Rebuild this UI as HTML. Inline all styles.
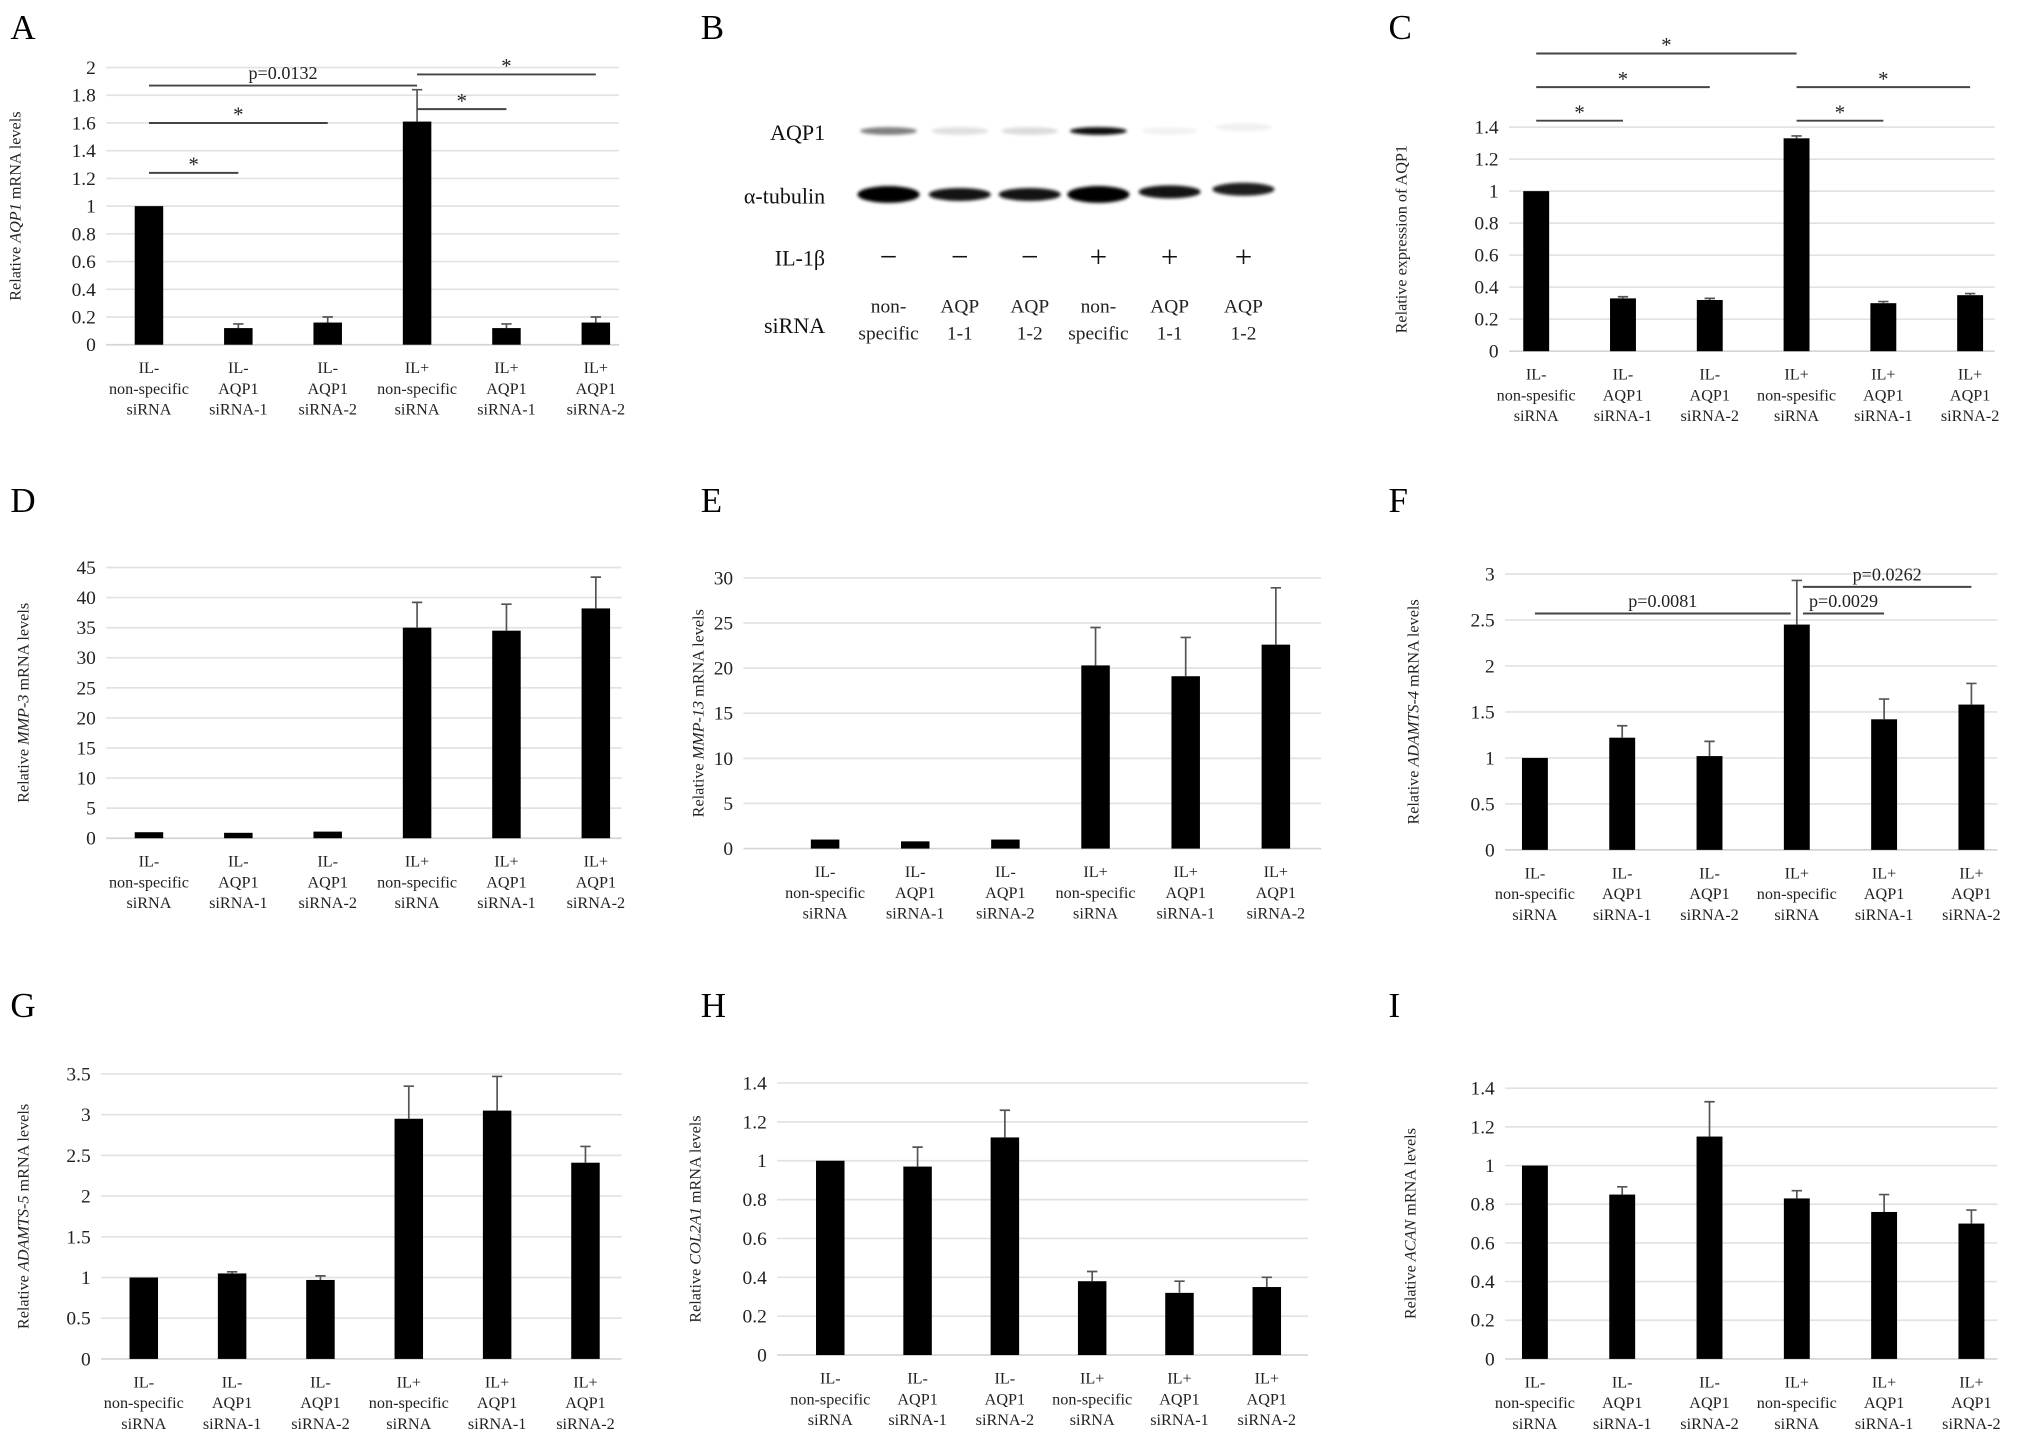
<!DOCTYPE html>
<html><head><meta charset="utf-8"><style>
html,body{margin:0;padding:0;background:#fff}
svg{display:block;font-family:"Liberation Serif",serif}
</style></head><body>
<svg id="fig" width="2031" height="1442" viewBox="0 0 1568 1113" xmlns="http://www.w3.org/2000/svg">
<defs><filter id="blur" x="-20%" y="-100%" width="140%" height="300%"><feGaussianBlur stdDeviation="1.2"/></filter></defs>
<rect width="1568" height="1113" fill="#fff"/>
<g id="charts"></g>
<g id="blot"></g>
</svg>
<script>
const categories=[["IL-","non-specific","siRNA"],["IL-","AQP1","siRNA-1"],["IL-","AQP1","siRNA-2"],["IL+","non-specific","siRNA"],["IL+","AQP1","siRNA-1"],["IL+","AQP1","siRNA-2"]];
const categoriesC=[["IL-","non-spesific","siRNA"],["IL-","AQP1","siRNA-1"],["IL-","AQP1","siRNA-2"],["IL+","non-spesific","siRNA"],["IL+","AQP1","siRNA-1"],["IL+","AQP1","siRNA-2"]];
const valuesA=[1,0.12,0.16,1.61,0.12,0.16];
const errorsA=[0,0.03,0.04,0.23,0.03,0.04];
const valuesC=[1,0.33,0.32,1.33,0.30,0.35];
const errorsC=[0,0.01,0.01,0.015,0.01,0.01];
const valuesD=[1,0.9,1.1,35,34.5,38.2];
const errorsD=[0,0,0,4.2,4.4,5.2];
const valuesE=[1,0.8,1.0,20.3,19.1,22.6];
const errorsE=[0,0,0,4.2,4.3,6.3];
const valuesF=[1,1.22,1.02,2.45,1.42,1.58];
const errorsF=[0,0.13,0.16,0.48,0.22,0.23];
const valuesG=[1,1.05,0.97,2.95,3.05,2.41];
const errorsG=[0,0.02,0.05,0.4,0.42,0.2];
const valuesH=[1,0.97,1.12,0.38,0.32,0.35];
const errorsH=[0,0.1,0.14,0.05,0.06,0.05];
const valuesI=[1,0.85,1.15,0.83,0.76,0.70];
const errorsI=[0,0.04,0.18,0.04,0.09,0.07];
const ticksA=["0","0.2","0.4","0.6","0.8","1","1.2","1.4","1.6","1.8","2"];
const ticksC=["0","0.2","0.4","0.6","0.8","1","1.2","1.4"];
const ticksD=["0","5","10","15","20","25","30","35","40","45"];
const ticksE=["0","5","10","15","20","25","30"];
const ticksF=["0","0.5","1","1.5","2","2.5","3"];
const ticksG=["0","0.5","1","1.5","2","2.5","3","3.5"];
const ticksH=["0","0.2","0.4","0.6","0.8","1","1.2","1.4"];
const ticksI=["0","0.2","0.4","0.6","0.8","1","1.2","1.4"];
// significance brackets: [fromIndex, toIndex, yValue, label]
const sigA=[[0,3,1.87,"p=0.0132"],[0,2,1.6,"*"],[0,1,1.24,"*"],[3,5,1.95,"*"],[3,4,1.7,"*"]];
const sigC=[[0,3,1.86,"*"],[0,2,1.65,"*"],[0,1,1.44,"*"],[3,5,1.65,"*"],[3,4,1.44,"*"]];
const sigF=[[0,2.93,2.57,"p=0.0081"],[3.07,5,2.86,"p=0.0262"],[3.07,4,2.57,"p=0.0029"]];

const NS="http://www.w3.org/2000/svg";
function mk(parent,tag,attrs,text){const e=document.createElementNS(NS,tag);for(const k in attrs)e.setAttribute(k,attrs[k]);if(text!==undefined)e.textContent=text;parent.appendChild(e);return e;}

function chart(cfg){
  const root=document.getElementById('charts');
  const g=mk(root,'g',{});
  
  
  const ticks=cfg.ticks, vals=cfg.values, errs=cfg.errors;
  const maxT=parseFloat(ticks[ticks.length-1]);
  const y=v=>cfg.y0-(v/maxT)*(cfg.y0-cfg.yTop);
  const x=i=>cfg.c0+i*cfg.sp;
  const L=mk(g,'text',{x:cfg.lx,y:cfg.ly,'font-size':27});L.textContent=cfg.id;
  
  
  ticks.forEach(t=>{
    const v=parseFloat(t);
    const gl=mk(g,'line',{x1:cfg.gx0,x2:cfg.gx1,y1:y(v),y2:y(v),stroke:v===0?'#d4d4d4':'#e2e2e2','stroke-width':1.3});
    
    
    const tl=mk(g,'text',{x:cfg.gx0-8,y:y(v)+5,'font-size':15,'text-anchor':'end',fill:'#222'},t);
    
    
  });
  const midY=(cfg.y0+cfg.yTop)/2;
  const tt=mk(g,'text',{x:cfg.tx,y:midY,'font-size':12.5,'text-anchor':'middle',fill:'#222',transform:`rotate(-90 ${cfg.tx} ${midY})`});
  
  
  mk(tt,'tspan',{},'Relative ');
  if(cfg.gene)mk(tt,'tspan',{'font-style':'italic'},cfg.gene+' ');
  mk(tt,'tspan',{},cfg.titleRest);
  vals.forEach((v,i)=>{
    const b=mk(g,'rect',{x:x(i)-cfg.bw/2,y:y(v),width:cfg.bw,height:cfg.y0-y(v),fill:'#000'});
    
    
    if(errs[i]>0){
      const e=mk(g,'path',{d:`M${x(i)} ${y(v)}V${y(v+errs[i])}M${x(i)-4} ${y(v+errs[i])}H${x(i)+4}`,stroke:'#555','stroke-width':1.3,fill:'none'});
      
      
    }
  });
  cfg.cats.forEach((c,i)=>{
    const t=mk(g,'text',{x:x(i),y:cfg.y0+22,'font-size':12.5,'text-anchor':'middle',fill:'#222'});
    
    
    c.forEach((ln,k)=>mk(t,'tspan',{x:x(i),dy:k?16:0},ln));
  });
  (cfg.sig||[]).forEach(s=>{
    const a=x(s[0]),b=x(s[1]),yy=y(s[2]);
    const l=mk(g,'line',{x1:a,x2:b,y1:yy,y2:yy,stroke:'#444','stroke-width':1.5});
    
    
    const isStar=s[3]==='*';
    const t=mk(g,'text',{x:(a+b)/2,y:isStar?yy-1:yy-5,'font-size':isStar?16:14,'text-anchor':'middle',fill:'#222'},s[3]);
    
    
  });
}
chart({id:'A',lx:8,ly:30,values:valuesA,errors:errorsA,ticks:ticksA,cats:categories,gx0:82,gx1:478,y0:266,yTop:52,c0:115,sp:69,bw:22,tx:16,gene:'AQP1',titleRest:'mRNA levels',sig:sigA});
chart({id:'C',lx:1072,ly:30,values:valuesC,errors:errorsC,ticks:ticksC,cats:categoriesC,gx0:1165,gx1:1540,y0:271,yTop:98,c0:1186,sp:67,bw:20,tx:1086,gene:'',titleRest:'expression of AQP1',sig:sigC});
chart({id:'D',lx:8,ly:395,values:valuesD,errors:errorsD,ticks:ticksD,cats:categories,gx0:82,gx1:480,y0:647,yTop:438,c0:115,sp:69,bw:22,tx:22,gene:'MMP-3',titleRest:'mRNA levels'});
chart({id:'E',lx:541,ly:395,values:valuesE,errors:errorsE,ticks:ticksE,cats:categories,gx0:574,gx1:1020,y0:655,yTop:446,c0:637,sp:69.6,bw:22,tx:543,gene:'MMP-13',titleRest:'mRNA levels'});
chart({id:'F',lx:1072,ly:395,values:valuesF,errors:errorsF,ticks:ticksF,cats:categories,gx0:1162,gx1:1542,y0:656,yTop:443,c0:1185,sp:67.4,bw:20,tx:1095,gene:'ADAMTS-4',titleRest:'mRNA levels',sig:sigF});
chart({id:'G',lx:8,ly:785,values:valuesG,errors:errorsG,ticks:ticksG,cats:categories,gx0:78,gx1:480,y0:1049,yTop:829,c0:111,sp:68.2,bw:22,tx:22,gene:'ADAMTS-5',titleRest:'mRNA levels'});
chart({id:'H',lx:541,ly:785,values:valuesH,errors:errorsH,ticks:ticksH,cats:categories,gx0:600,gx1:1010,y0:1046,yTop:836,c0:641,sp:67.4,bw:22,tx:541,gene:'COL2A1',titleRest:'mRNA levels'});
chart({id:'I',lx:1072,ly:785,values:valuesI,errors:errorsI,ticks:ticksI,cats:categories,gx0:1162,gx1:1542,y0:1049,yTop:840,c0:1185,sp:67.4,bw:20,tx:1093,gene:'ACAN',titleRest:'mRNA levels'});

// Western blot
const lanes=[686,741,795,848,903,960];
const aqpBand=[0.5,0.12,0.14,0.95,0.05,0.06];
const tubBand=[1,0.92,0.92,1,0.92,0.88];
const il1b=["−","−","−","+","+","+"];
const sirna=[["non-","specific"],["AQP","1-1"],["AQP","1-2"],["non-","specific"],["AQP","1-1"],["AQP","1-2"]];
(function(){
  const g=document.getElementById('blot');
  const L=mk(g,'text',{x:541,y:30,'font-size':27},'B');
  
  
  [['AQP1',108],['α-tubulin',157],['IL-1β',205],['siRNA',257]].forEach(r=>{
    const t=mk(g,'text',{x:637,y:r[1],'font-size':17,'text-anchor':'end',fill:'#111'},r[0]);
    
    
  });
  lanes.forEach((cx,i)=>{
    const a=mk(g,'ellipse',{cx:cx,cy:i===5?98:101,rx:22,ry:3,fill:'#000',opacity:aqpBand[i],filter:'url(#blur)'});
    
    
    const b=mk(g,'ellipse',{cx:cx,cy:i===5?146:i===4?148:150,rx:24,ry:i===0||i===3?6.5:5,fill:'#000',opacity:tubBand[i],filter:'url(#blur)'});
    
    
    const s=mk(g,'text',{x:cx,y:206,'font-size':24,'text-anchor':'middle',fill:'#111'},il1b[i]);
    
    
    const t=mk(g,'text',{x:cx,y:241,'font-size':15,'text-anchor':'middle',fill:'#222'});
    
    
    sirna[i].forEach((ln,k)=>mk(t,'tspan',{x:cx,dy:k?21:0},ln));
  });
})();
</script>
</body></html>
